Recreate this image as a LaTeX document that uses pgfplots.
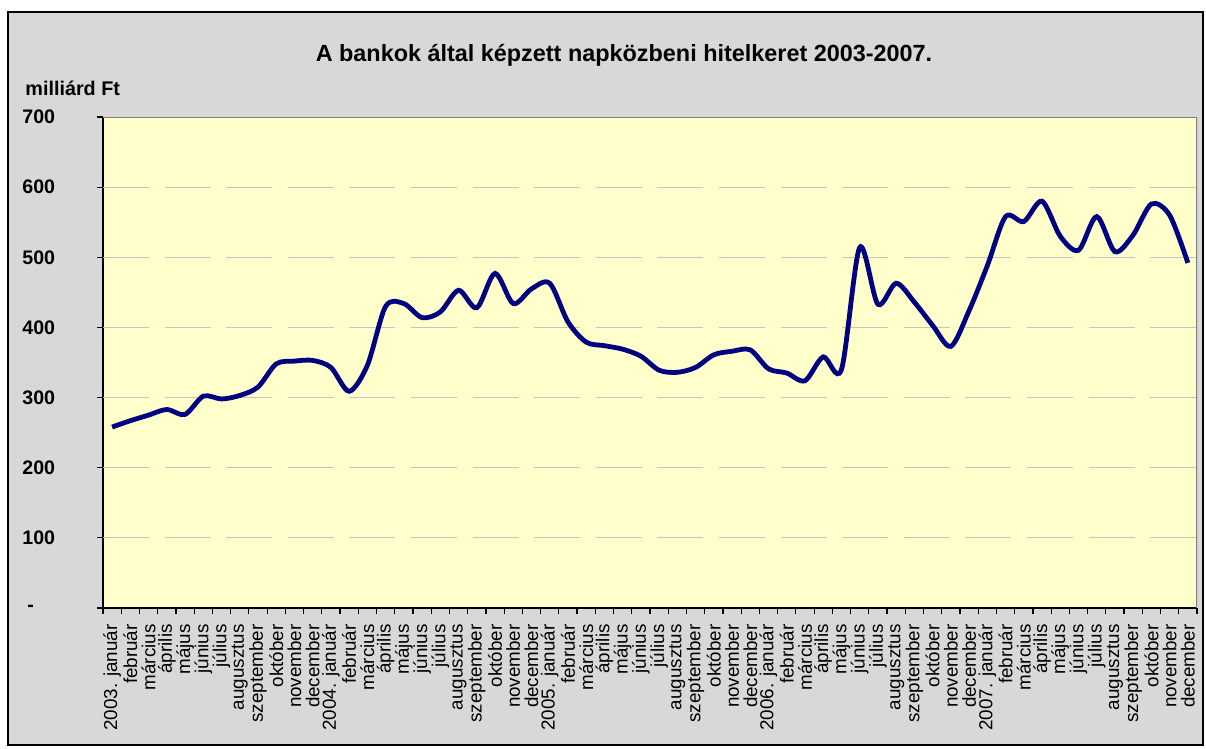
\documentclass[border=0pt]{standalone}
\usepackage{pgfplots}
\usepackage{pgfplotstable}
\pgfplotsset{compat=1.18}
\usepackage{fontspec}
\setmainfont{Liberation Sans}
\definecolor{bgray}{RGB}{216,216,216}
\definecolor{plotyellow}{RGB}{255,255,204}
\definecolor{linenavy}{RGB}{0,0,128}
\definecolor{gridgray}{RGB}{196,196,196}

% napközbeni hitelkeret, milliárd Ft, havonta 2003-2007
\pgfplotstableread{
m v
0 258
1 267
2 275
3 283
4 276
5 302
6 298
7 303
8 315
9 348
10 352
11 353
12 343
13 309
14 346
15 430
16 434
17 414
18 422
19 453
20 428
21 477
22 434
23 455
24 463
25 408
26 379
27 374
28 369
29 359
30 339
31 336
32 343
33 361
34 366
35 368
36 341
37 335
38 324
39 358
40 340
41 514
42 433
43 463
44 436
45 403
46 373
47 424
48 488
49 558
50 551
51 580
52 530
53 510
54 558
55 508
56 532
57 576
58 560
59 492
}\hitel

\begin{document}
\begin{tikzpicture}
\path[use as bounding box] (0,0) rectangle (603bp,374.5bp);
\draw[fill=bgray, line width=1bp] (4bp,2bp) rectangle (601.5bp,368.5bp);
\node[font=\fontsize{11.7bp}{14bp}\selectfont\bfseries] at (312bp,347bp)
  {A bankok által képzett napközbeni hitelkeret 2003-2007.};
\node[anchor=west, inner sep=0pt, font=\fontsize{9.9bp}{12bp}\selectfont\bfseries]
  at (12.5bp,330.5bp) {milliárd Ft};
\begin{axis}[
  at={(51.5bp,70.5bp)}, anchor=south west,
  scale only axis, width=547bp, height=245.5bp,
  xmin=-0.5, xmax=59.5, ymin=0, ymax=700,
  axis lines=left,
  axis line style={-, black, line width=0.6bp},
  axis background/.style={fill=plotyellow},
  tick align=outside,
  major tick length=3bp,
  tick style={black, line width=0.6bp},
  xtick={-0.5,0.5,...,59.5},
  x tick label as interval,
  xticklabels={2003. január,február,március,április,május,június,július,augusztus,szeptember,október,november,december,
    2004. január,február,március,április,május,június,július,augusztus,szeptember,október,november,december,
    2005. január,február,március,április,május,június,július,augusztus,szeptember,október,november,december,
    2006. január,február,március,április,május,június,július,augusztus,szeptember,október,november,december,
    2007. január,február,március,április,május,június,július,augusztus,szeptember,október,november,december},
  xticklabel style={rotate=90, anchor=east, inner sep=0pt,
    font=\fontsize{9.4bp}{10bp}\selectfont},
  xticklabel shift=5bp,
  ytick={0,100,...,700},
  yticklabels={\hspace{2.5bp}-,100,200,300,400,500,600,700},
  yticklabel style={anchor=west, inner sep=0pt, xshift=-37.5bp,
    font=\fontsize{9.8bp}{12bp}\selectfont\bfseries},
  extra y ticks={100,200,...,600},
  extra y tick labels={},
  extra y tick style={grid=major, major tick length=0pt},
  grid style={gridgray, line width=0.6bp, dash pattern=on 23bp off 7.8bp},
]
\addplot[linenavy, line width=2.4bp, smooth, tension=0.5] table[x=m, y=v] {\hitel};
\draw[gray, line width=0.8bp] (rel axis cs:0,1) -- (rel axis cs:1,1) -- (rel axis cs:1,0);
\end{axis}
\end{tikzpicture}
\end{document}
